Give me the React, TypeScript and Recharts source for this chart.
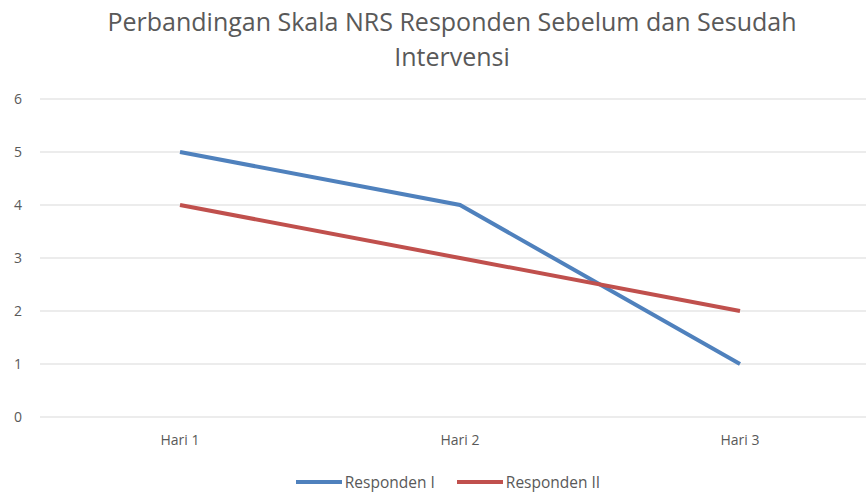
import { LineChart, Line, XAxis, YAxis, CartesianGrid } from 'recharts';

const days = ['Hari 1', 'Hari 2', 'Hari 3'];
const respondenI = [5, 4, 1];
const respondenII = [4, 3, 2];
const yTicks = [0, 1, 2, 3, 4, 5, 6];

const data = days.map((d, i) => ({ day: d, r1: respondenI[i], r2: respondenII[i] }));

const series = [
  { key: 'r1', name: 'Responden I', color: '#4f81bd' },
  { key: 'r2', name: 'Responden II', color: '#c0504d' },
];

const FONT = '"Open Sans", "Noto Sans", sans-serif';
const GREY = '#595959';

export default function App() {
  return (
    <div style={{ position: 'absolute', left: 0, top: 0, width: 866, height: 494, overflow: 'hidden', background: '#fff' }}>
      <div style={{ position: 'absolute', left: 0, top: 4, width: 904, textAlign: 'center', fontFamily: FONT, fontSize: 25, lineHeight: '35px', color: GREY }}>
        Perbandingan Skala NRS Responden Sebelum dan Sesudah<br />Intervensi
      </div>
      <LineChart width={880} height={494} data={data} margin={{ top: 99, right: 0, bottom: 47, left: 0 }}>
        <CartesianGrid vertical={false} stroke="#d9d9d9" strokeWidth={1} />
        <XAxis dataKey="day" height={30} axisLine={false} tickLine={false} tickSize={0} tickMargin={18} padding={{ left: 140, right: 140 }}
          tick={{ fontSize: 14, fill: GREY, fontFamily: FONT }} />
        <YAxis domain={[0, 6]} ticks={yTicks} width={40} axisLine={false} tickLine={false} tickSize={0} tickMargin={18}
          tick={{ fontSize: 14, fill: GREY, fontFamily: FONT }} />
        {series.map((s) => (
          <Line key={s.key} dataKey={s.key} name={s.name} stroke={s.color} strokeWidth={4} dot={false} isAnimationActive={false} />
        ))}
      </LineChart>
      <div style={{ position: 'absolute', left: 0, top: 471, width: 896, display: 'flex', justifyContent: 'center', alignItems: 'center', gap: 22, fontFamily: FONT, fontSize: 15.5, color: GREY }}>
        {series.map((s) => (
          <div key={s.key} style={{ display: 'flex', alignItems: 'center' }}>
            <svg width={46} height={6} style={{ marginRight: 3 }}>
              <line x1={0} y1={3} x2={46} y2={3} stroke={s.color} strokeWidth={4} />
            </svg>
            <span>{s.name}</span>
          </div>
        ))}
      </div>
    </div>
  );
}
